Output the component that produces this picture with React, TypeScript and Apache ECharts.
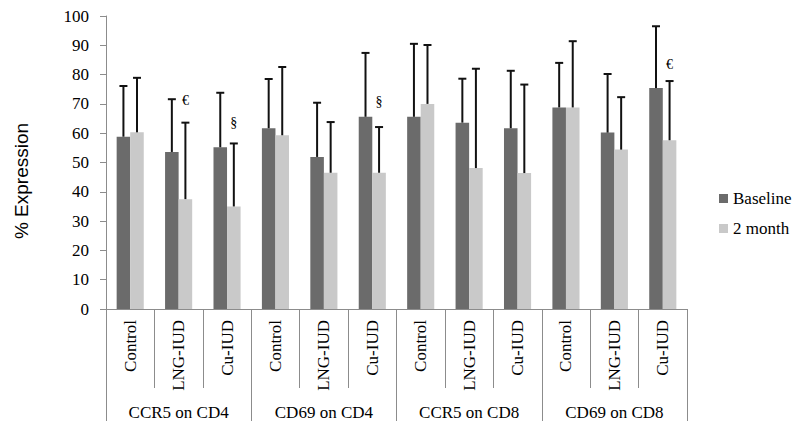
import React, { useEffect, useRef } from "react";
import * as echarts from "echarts";

const subCategories = [
  "Control", "LNG-IUD", "Cu-IUD",
  "Control", "LNG-IUD", "Cu-IUD",
  "Control", "LNG-IUD", "Cu-IUD",
  "Control", "LNG-IUD", "Cu-IUD",
];
const groupCategories = ["CCR5 on CD4", "CD69 on CD4", "CCR5 on CD8", "CD69 on CD8"];
const seriesNames = ["Baseline", "2 month"];
const baseline = [58.8, 53.6, 55.2, 61.7, 51.9, 65.6, 65.6, 63.6, 61.7, 68.8, 60.2, 75.4];
const baselineErr = [17.3, 18.0, 18.6, 16.8, 18.5, 21.8, 24.9, 15.0, 19.6, 15.2, 20.0, 21.1];
const month2 = [60.3, 37.5, 35.0, 59.3, 46.5, 46.5, 70.0, 48.1, 46.4, 68.8, 54.4, 57.6];
const month2Err = [18.6, 26.1, 21.5, 23.3, 17.3, 15.6, 20.1, 33.9, 30.2, 22.6, 17.9, 20.2];
const markSymbols = ["€", "§", "§", "€"];
const markIndex = [1, 2, 5, 11];
const markValue = [71.3, 63.5, 70.8, 83.6];
const yTicks = { min: 0, max: 100, interval: 10 };

const SERIF = "'Liberation Serif', 'Times New Roman', serif";
const GAP = 0.44;
const AXIS_GRAY = "#8c8c8c";

function errorRender(sign: number) {
  return (params: any, api: any) => {
    const cat = api.value(0);
    const val = api.value(1);
    const top = api.value(2);
    const base = api.coord([cat, val]);
    const tp = api.coord([cat, top]);
    const bandW = api.size([1, 0])[0];
    const barW = (bandW * (1 - GAP)) / 2;
    const cx = base[0] + (sign * barW) / 2;
    const style = { stroke: "#111", lineWidth: 2 };
    return {
      type: "group",
      children: [
        { type: "line", shape: { x1: cx, y1: base[1], x2: cx, y2: tp[1] }, style },
        { type: "line", shape: { x1: cx - 4, y1: tp[1], x2: cx + 4, y2: tp[1] }, style },
      ],
    };
  };
}

export default function App() {
  const ref = useRef<HTMLDivElement>(null);
  useEffect(() => {
    if (!ref.current) return;
    const chart = echarts.init(ref.current, null, { renderer: "svg" });
    const option: any = {
      animation: false,
      backgroundColor: "#ffffff",
      grid: { left: 106, right: 113, top: 16, bottom: 125, containLabel: false },
      legend: {
        data: seriesNames,
        orient: "vertical",
        left: 714,
        top: 185,
        icon: "rect",
        itemWidth: 9,
        itemHeight: 9,
        itemGap: 13,
        textStyle: { fontFamily: SERIF, fontSize: 17, color: "#000" },
      },
      graphic: [
        {
          type: "text",
          x: 21,
          y: 181,
          rotation: Math.PI / 2,
          style: {
            text: "% Expression",
            font: "19px 'Liberation Sans', Arial, sans-serif",
            fill: "#000",
            align: "center",
            verticalAlign: "middle",
          },
        },
      ],
      xAxis: [
        {
          type: "category",
          data: subCategories,
          position: "bottom",
          axisLine: { show: true, lineStyle: { color: AXIS_GRAY, width: 1 } },
          axisTick: { show: true, interval: 0, length: 79, lineStyle: { color: AXIS_GRAY } },
          axisLabel: {
            interval: 0,
            rotate: 90,
            margin: 11,
            fontFamily: SERIF,
            fontSize: 17,
            color: "#000",
          },
        },
        {
          type: "category",
          data: groupCategories,
          position: "bottom",
          axisLine: { show: false },
          axisTick: { show: true, interval: 0, length: 112, lineStyle: { color: AXIS_GRAY } },
          axisLabel: {
            interval: 0,
            margin: 95,
            fontFamily: SERIF,
            fontSize: 17,
            color: "#000",
          },
        },
      ],
      yAxis: {
        type: "value",
        min: yTicks.min,
        max: yTicks.max,
        interval: yTicks.interval,
        axisLine: { show: true, lineStyle: { color: AXIS_GRAY, width: 1 } },
        axisTick: { show: true, length: 6, lineStyle: { color: AXIS_GRAY } },
        splitLine: { show: false },
        axisLabel: { margin: 17, fontFamily: SERIF, fontSize: 17, color: "#000" },
      },
      series: [
        {
          name: seriesNames[0],
          type: "bar",
          data: baseline,
          barGap: "0%",
          barCategoryGap: GAP * 100 + "%",
          itemStyle: { color: "#6b6b6b" },
        },
        {
          name: seriesNames[1],
          type: "bar",
          data: month2,
          itemStyle: { color: "#c9c9c9" },
        },
        {
          type: "custom",
          renderItem: errorRender(-1),
          data: baseline.map((v, i) => [i, v, v + baselineErr[i]]),
          encode: { x: 0, y: 1 },
          z: 5,
        },
        {
          type: "custom",
          renderItem: errorRender(1),
          data: month2.map((v, i) => [i, v, v + month2Err[i]]),
          encode: { x: 0, y: 1 },
          z: 5,
        },
        {
          type: "custom",
          renderItem: (params: any, api: any) => {
            const cat = api.value(0);
            const val = api.value(1);
            const p = api.coord([cat, val]);
            const bandW = api.size([1, 0])[0];
            const barW = (bandW * (1 - GAP)) / 2;
            return {
              type: "text",
              x: p[0] + barW / 2,
              y: p[1],
              style: {
                text: markSymbols[params.dataIndex],
                font: "14px " + SERIF,
                fill: "#000",
                align: "center",
                verticalAlign: "middle",
              },
            };
          },
          data: markIndex.map((c, i) => [c, markValue[i]]),
          encode: { x: 0, y: 1 },
          z: 6,
        },
      ],
    };
    chart.setOption(option);
    return () => chart.dispose();
  }, []);
  return (
    <div
      ref={ref}
      style={{ position: "absolute", left: 0, top: 0, width: 800, height: 434 }}
    />
  );
}
